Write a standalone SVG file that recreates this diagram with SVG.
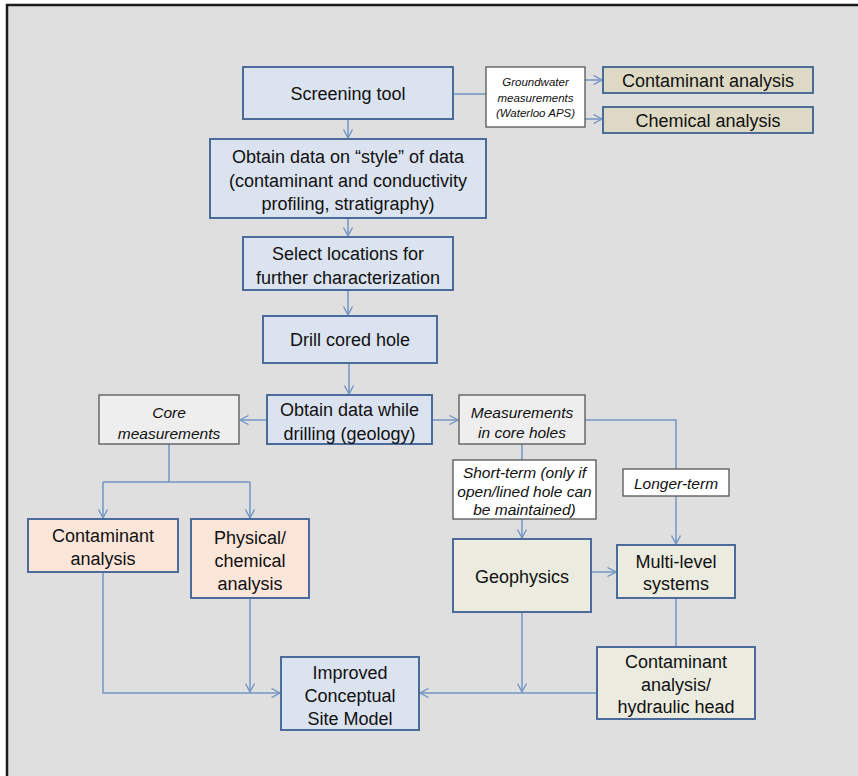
<svg xmlns="http://www.w3.org/2000/svg" width="858" height="776" viewBox="0 0 858 776">
  <style>
    .box { stroke: #4b6b9b; stroke-width: 2; }
    .blue { fill: #dbe3f0; }
    .tan { fill: #ddd9c4; }
    .pink { fill: #fce6da; }
    .olive { fill: #ebecdf; }
    .label { stroke: #555; stroke-width: 1.3; }
    .white { fill: #ffffff; }
    .grey { fill: #eeeeee; }
    text { font-family: "Liberation Sans", Arial, sans-serif; fill: #111; text-anchor: middle; }
    .t { font-size: 18px; }
    .i { font-size: 15.5px; font-style: italic; }
    .s { font-size: 11.5px; font-style: italic; }
    .conn { fill: none; stroke: #7396c4; stroke-width: 1.5; }
  </style>
  <defs>
    <marker id="arrow" viewBox="0 0 10 10" refX="9.5" refY="5" markerWidth="10" markerHeight="10" markerUnits="userSpaceOnUse" orient="auto">
      <path d="M1,0.5 L9.5,5 L1,9.5" fill="none" stroke="#7396c4" stroke-width="1.4"/>
    </marker>
  </defs>

  <!-- page frame -->
  <rect x="0" y="0" width="858" height="776" fill="#ffffff"/>
  <rect x="7" y="5" width="860" height="790" fill="#dfdfdf" stroke="#1a1a1a" stroke-width="2.5"/>

  <!-- connectors -->
  <g id="connectors">
    <path class="conn" d="M348,119 V138" marker-end="url(#arrow)"/>
    <path class="conn" d="M453,94 H486"/>
    <path class="conn" d="M585,80 H602" marker-end="url(#arrow)"/>
    <path class="conn" d="M585,119 H602" marker-end="url(#arrow)"/>
    <path class="conn" d="M348,218 V236" marker-end="url(#arrow)"/>
    <path class="conn" d="M348,290 V315" marker-end="url(#arrow)"/>
    <path class="conn" d="M349,363 V394" marker-end="url(#arrow)"/>
    <path class="conn" d="M267,420 H240" marker-end="url(#arrow)"/>
    <path class="conn" d="M432,420 H458" marker-end="url(#arrow)"/>
    <path class="conn" d="M169,444 V482"/>
    <path class="conn" d="M103,482 H250"/>
    <path class="conn" d="M103,482 V518" marker-end="url(#arrow)"/>
    <path class="conn" d="M250,482 V518" marker-end="url(#arrow)"/>
    <path class="conn" d="M103,572 V693 H280" marker-end="url(#arrow)"/>
    <path class="conn" d="M250,598 V692" marker-end="url(#arrow)"/>
    <path class="conn" d="M522,444 V538" marker-end="url(#arrow)"/>
    <path class="conn" d="M585,420 H676 V544" marker-end="url(#arrow)"/>
    <path class="conn" d="M591,572 H616" marker-end="url(#arrow)"/>
    <path class="conn" d="M676,598 V647"/>
    <path class="conn" d="M522,612 V692" marker-end="url(#arrow)"/>
    <path class="conn" d="M597,693 H420" marker-end="url(#arrow)"/>
  </g>

  <g id="screening-tool">
    <rect class="box blue" x="243" y="67" width="210" height="52"/>
    <text class="t" x="348" y="100">Screening tool</text>
  </g>

  <g id="groundwater-measurements">
    <rect class="label white" x="486" y="67" width="99" height="60"/>
    <text class="s" x="535.5" y="86">Groundwater</text>
    <text class="s" x="535.5" y="101.5">measurements</text>
    <text class="s" x="535.5" y="117">(Waterloo APS)</text>
  </g>

  <g id="contaminant-analysis-top">
    <rect class="box tan" x="603" y="67" width="210" height="26"/>
    <text class="t" x="708" y="86.5">Contaminant analysis</text>
  </g>

  <g id="chemical-analysis">
    <rect class="box tan" x="603" y="107" width="210" height="26"/>
    <text class="t" x="708" y="126.5">Chemical analysis</text>
  </g>

  <g id="style-of-data">
    <rect class="box blue" x="210" y="139" width="276" height="79"/>
    <text class="t" x="348" y="163">Obtain data on “style” of data</text>
    <text class="t" x="348" y="187">(contaminant and conductivity</text>
    <text class="t" x="348" y="210">profiling, stratigraphy)</text>
  </g>

  <g id="select-locations">
    <rect class="box blue" x="243" y="237" width="210" height="53"/>
    <text class="t" x="348" y="259.5">Select locations for</text>
    <text class="t" x="348" y="283.5">further characterization</text>
  </g>

  <g id="drill-cored-hole">
    <rect class="box blue" x="263" y="316" width="174" height="47"/>
    <text class="t" x="350" y="346">Drill cored hole</text>
  </g>

  <g id="data-while-drilling">
    <rect class="box blue" x="267" y="395" width="165" height="49"/>
    <text class="t" x="349.5" y="415.5">Obtain data while</text>
    <text class="t" x="349.5" y="439.5">drilling (geology)</text>
  </g>

  <g id="core-measurements">
    <rect class="label grey" x="99" y="395" width="140" height="49"/>
    <text class="i" x="169" y="417.5">Core</text>
    <text class="i" x="169" y="438.5">measurements</text>
  </g>

  <g id="measurements-in-core-holes">
    <rect class="label grey" x="459" y="395" width="126" height="49"/>
    <text class="i" x="522" y="417.5">Measurements</text>
    <text class="i" x="522" y="438">in core holes</text>
  </g>

  <g id="contaminant-analysis-core">
    <rect class="box pink" x="28" y="519" width="150" height="53"/>
    <text class="t" x="103" y="541.5">Contaminant</text>
    <text class="t" x="103" y="564.5">analysis</text>
  </g>

  <g id="physical-chemical-analysis">
    <rect class="box pink" x="191" y="519" width="118" height="79"/>
    <text class="t" x="250" y="543.5">Physical/</text>
    <text class="t" x="250" y="566.5">chemical</text>
    <text class="t" x="250" y="590">analysis</text>
  </g>

  <g id="short-term">
    <rect class="label white" x="453" y="460" width="143" height="59"/>
    <text class="i" x="524.5" y="477.5">Short-term (only if</text>
    <text class="i" x="524.5" y="496.5">open/lined hole can</text>
    <text class="i" x="524.5" y="514.5">be maintained)</text>
  </g>

  <g id="longer-term">
    <rect class="label white" x="623" y="469" width="106" height="27"/>
    <text class="i" x="676" y="489">Longer-term</text>
  </g>

  <g id="geophysics">
    <rect class="box olive" x="453" y="539" width="138" height="73"/>
    <text class="t" x="522" y="583">Geophysics</text>
  </g>

  <g id="multi-level-systems">
    <rect class="box olive" x="617" y="545" width="118" height="53"/>
    <text class="t" x="676" y="567.5">Multi-level</text>
    <text class="t" x="676" y="590">systems</text>
  </g>

  <g id="contaminant-hydraulic-head">
    <rect class="box olive" x="597" y="647" width="158" height="72"/>
    <text class="t" x="676" y="667.5">Contaminant</text>
    <text class="t" x="676" y="690.5">analysis/</text>
    <text class="t" x="676" y="713">hydraulic head</text>
  </g>

  <g id="conceptual-site-model">
    <rect class="box blue" x="281" y="657" width="138" height="73"/>
    <text class="t" x="350" y="678.5">Improved</text>
    <text class="t" x="350" y="701.5">Conceptual</text>
    <text class="t" x="350" y="725">Site Model</text>
  </g>
</svg>
